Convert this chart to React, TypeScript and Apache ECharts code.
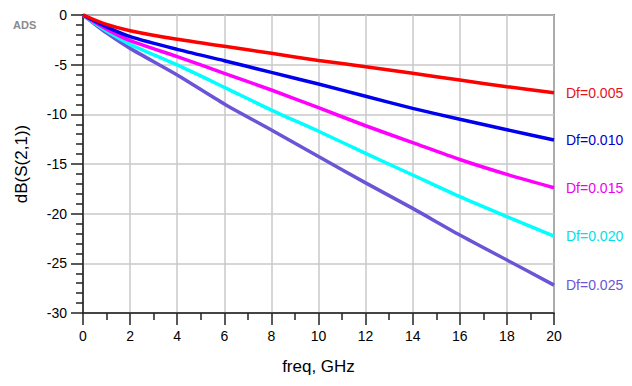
import React, { useEffect, useRef } from "react";
import * as echarts from "echarts";

const freqs = [0, 1, 2, 4, 6, 8, 10, 12, 14, 16, 18, 20];
const df005 = [0, -0.95, -1.58, -2.45, -3.15, -3.86, -4.57, -5.2, -5.87, -6.55, -7.22, -7.82];
const df010 = [0, -1.2, -2.18, -3.46, -4.6, -5.78, -6.95, -8.18, -9.4, -10.5, -11.55, -12.59];
const df015 = [0, -1.42, -2.58, -4.19, -5.87, -7.55, -9.33, -11.15, -12.85, -14.55, -16.05, -17.39];
const df020 = [0, -1.62, -2.95, -5.03, -7.28, -9.57, -11.7, -13.93, -16.11, -18.29, -20.3, -22.26];
const df025 = [0, -1.8, -3.36, -6.04, -8.96, -11.58, -14.25, -16.9, -19.47, -22.15, -24.67, -27.19];

const seriesNames = ["Df=0.005", "Df=0.010", "Df=0.015", "Df=0.020", "Df=0.025"];
const seriesValues = [df005, df010, df015, df020, df025];
const seriesColors = ["#ff0000", "#0000ee", "#ff00ff", "#00ffff", "#6a55d6"];
const labelColors = ["#e8101a", "#0000cc", "#ee00ee", "#00e0e8", "#6a55d6"];

const xTicks = [0, 2, 4, 6, 8, 10, 12, 14, 16, 18, 20];
const yTicks = [0, -5, -10, -15, -20, -25, -30];

const FONT = "Liberation Sans, Arial, sans-serif";

export default function App() {
  const ref = useRef<HTMLDivElement>(null);
  useEffect(() => {
    if (!ref.current) return;
    const chart = echarts.init(ref.current, null, { renderer: "svg" });
    const axisCommon = {
      axisLine: { show: true, onZero: false, lineStyle: { color: "#222", width: 1.5 } },
      axisTick: { show: true, inside: false, length: 12, lineStyle: { color: "#222", width: 1.5 } },
      minorTick: { show: true, length: 7, lineStyle: { color: "#222", width: 1.5 } },
      splitLine: { show: true, lineStyle: { color: "#c8c8c8", width: 1.5 } },
      axisLabel: { color: "#000", fontSize: 14, fontFamily: FONT, margin: 16 },
      nameTextStyle: { color: "#000", fontSize: 17, fontFamily: FONT },
    };
    chart.setOption({
      animation: false,
      backgroundColor: "#ffffff",
      textStyle: { fontFamily: FONT },
      graphic: [
        {
          type: "text",
          left: 13,
          top: 19,
          style: { text: "ADS", fill: "#8a8a8a", font: "bold 11px " + FONT },
        },
      ],
      grid: {
        left: 83,
        top: 15,
        right: 78,
        bottom: 73,
        show: true,
        borderColor: "#222",
        borderWidth: 1.5,
        outerBoundsMode: "none",
      },
      xAxis: {
        type: "value",
        min: 0,
        max: 20,
        interval: 2,
        minorTick: { ...axisCommon.minorTick, splitNumber: 2 },
        axisLine: axisCommon.axisLine,
        axisTick: axisCommon.axisTick,
        splitLine: axisCommon.splitLine,
        axisLabel: {
          ...axisCommon.axisLabel,
          formatter: (v: number) => (xTicks.includes(v) ? String(v) : ""),
        },
        name: "freq, GHz",
        nameLocation: "middle",
        nameGap: 45,
        nameTextStyle: axisCommon.nameTextStyle,
      },
      yAxis: {
        type: "value",
        min: -30,
        max: 0,
        interval: 5,
        minorTick: { ...axisCommon.minorTick, splitNumber: 5 },
        axisLine: axisCommon.axisLine,
        axisTick: axisCommon.axisTick,
        splitLine: axisCommon.splitLine,
        axisLabel: {
          ...axisCommon.axisLabel,
          formatter: (v: number) => (yTicks.includes(v) ? String(v) : ""),
        },
        name: "dB(S(2,1))",
        nameLocation: "middle",
        nameGap: 53,
        nameTextStyle: axisCommon.nameTextStyle,
      },
      series: seriesNames.map((name, i) => ({
        name,
        type: "line",
        data: freqs.map((f, j) => [f, seriesValues[i][j]]),
        showSymbol: false,
        symbol: "none",
        smooth: 0.25,
        lineStyle: { color: seriesColors[i], width: 3.5 },
        itemStyle: { color: seriesColors[i] },
        endLabel: {
          show: true,
          formatter: name,
          distance: 12,
          color: labelColors[i],
          fontSize: 14,
          fontFamily: FONT,
        },
        z: 10 - i,
      })),
    });
    return () => chart.dispose();
  }, []);
  return (
    <div
      ref={ref}
      style={{ position: "fixed", left: 0, top: 0, width: 632, height: 386, background: "#fff" }}
    />
  );
}
